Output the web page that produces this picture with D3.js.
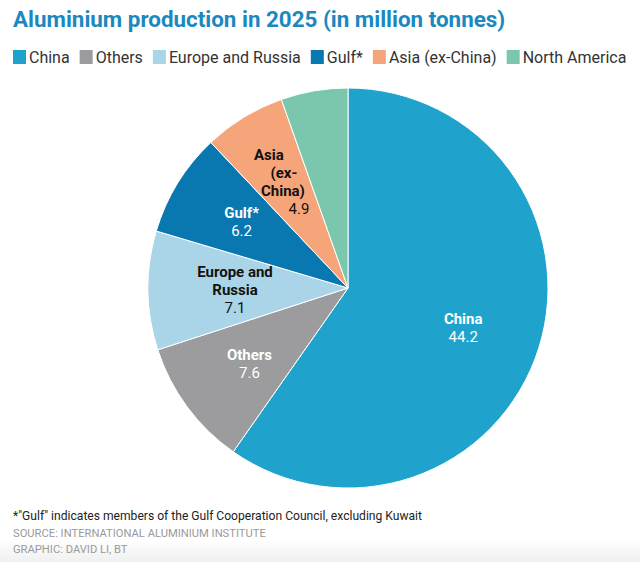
<!DOCTYPE html>
<html>
<head>
<meta charset="utf-8">
<script src="https://cdn.jsdelivr.net/npm/d3@7"></script>
<style>
  body { margin: 0; background: #fff; }
  svg { display: block; font-family: "Roboto", "Liberation Sans", sans-serif; }
</style>
</head>
<body>
<svg id="chart" width="640" height="562"></svg>
<script>
// data
const regions = ["China", "Others", "Europe and Russia", "Gulf*", "Asia (ex-China)", "North America"];
const output = [44.2, 7.6, 7.1, 6.2, 4.9, 4.0];
const colours = ["#1fa3cc", "#9c9c9e", "#aad5e8", "#0a78b0", "#f6a57a", "#7ac7ae"];
// label lines inside each slice (north america has none)
const labelLines = [["China"], ["Others"], ["Europe and", "Russia"], ["Gulf*"], ["Asia", "(ex-", "China)"], []];
const labelDark = [false, false, true, false, true, false];

const svg = d3.select("#chart");
const cx = 348, cy = 288, radius = 200;

// faint grey fade along the bottom edge
const grad = svg.append("defs").append("linearGradient")
    .attr("id", "fade").attr("x1", 0).attr("x2", 0).attr("y1", 0).attr("y2", 1);
grad.append("stop").attr("offset", 0).attr("stop-color", "#fff");
grad.append("stop").attr("offset", 1).attr("stop-color", "#f0f0f0");
svg.append("rect").attr("x", 0).attr("y", 540).attr("width", 640).attr("height", 22)
    .attr("fill", "url(#fade)");

svg.append("text")
    .attr("x", 13).attr("y", 27)
    .attr("fill", "#1b88bf")
    .attr("font-size", 22.4).attr("font-weight", 700)
    .text("Aluminium production in 2025 (in million tonnes)");

// legend
const legend = svg.append("g").attr("transform", "translate(13,50)");
let lx = 0;
regions.forEach((name, i) => {
    const g = legend.append("g").attr("transform", `translate(${lx},0)`);
    g.append("rect").attr("width", 13).attr("height", 14).attr("fill", colours[i]);
    const t = g.append("text")
        .attr("x", 16).attr("y", 13)
        .attr("font-size", 16).attr("fill", "#333")
        .text(name);
    lx += 16 + t.node().getComputedTextLength() + 10;
});

const pie = d3.pie().sort(null).value(d => d);
const arc = d3.arc().innerRadius(0).outerRadius(radius);
const labelArc = d3.arc().innerRadius(125).outerRadius(125);

const g = svg.append("g").attr("transform", `translate(${cx},${cy})`);
const slices = pie(output);

g.selectAll("path.slice")
    .data(slices)
    .join("path")
    .attr("class", "slice")
    .attr("d", arc)
    .attr("fill", (d, i) => colours[i])
    .attr("stroke", "#fff")
    .attr("stroke-width", 1);

// little per-slice nudges so labels sit like the original
const nudge = [[-4, 2], [2, 2], [12, 0], [0, 0], [0, 1], [0, 0]];
const lineH = 18;

slices.forEach((d, i) => {
    const lines = labelLines[i];
    if (!lines.length) return;
    const [x, y] = labelArc.centroid(d);
    const all = lines.length + 1;
    const top = y + nudge[i][1] - (all - 1) * lineH / 2;
    const fill = labelDark[i] ? "#111" : "#fff";
    const t = g.append("text")
        .attr("text-anchor", "middle")
        .attr("fill", fill)
        .attr("font-size", 15);
    lines.forEach((line, k) => {
        let dx = 0;
        if (i === 4) dx = [-14, 1, 0][k];
        t.append("tspan")
            .attr("x", x + nudge[i][0] + dx)
            .attr("y", top + k * lineH + 5)
            .attr("font-weight", 700)
            .text(line);
    });
    t.append("tspan")
        .attr("x", x + nudge[i][0] + (i === 4 ? 16 : 0))
        .attr("y", top + lines.length * lineH + 5)
        .attr("font-weight", 400)
        .text(d3.format(".1f")(output[i]));
});

// footer
svg.append("text")
    .attr("x", 13).attr("y", 520)
    .attr("font-size", 12.1).attr("fill", "#222")
    .text("*\"Gulf\" indicates members of the Gulf Cooperation Council, excluding Kuwait");
svg.append("text")
    .attr("x", 13).attr("y", 537)
    .attr("font-size", 11.2).attr("fill", "#9a9a9a")
    .text("SOURCE: INTERNATIONAL ALUMINIUM INSTITUTE");
svg.append("text")
    .attr("x", 13).attr("y", 553)
    .attr("font-size", 11.2).attr("fill", "#9a9a9a")
    .text("GRAPHIC: DAVID LI, BT");
</script>
</body>
</html>
